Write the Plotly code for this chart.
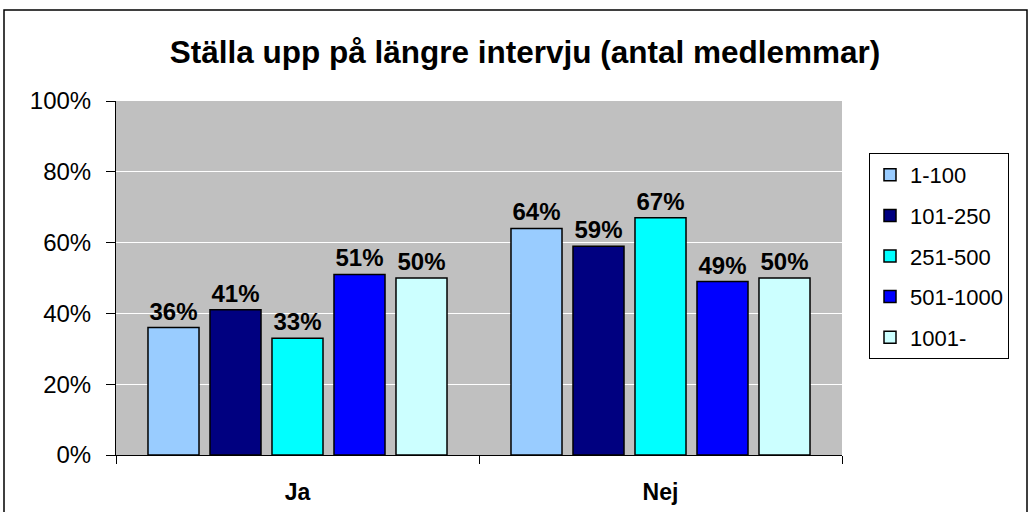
import plotly.graph_objects as go

categories = ["Ja", "Nej"]
series_names = ["1-100", "101-250", "251-500", "501-1000", "1001-"]
values = {
    "1-100": [36, 64],
    "101-250": [41, 59],
    "251-500": [33, 67],
    "501-1000": [51, 49],
    "1001-": [50, 50],
}
colors = ["#99CCFF", "#000080", "#00FFFF", "#0000FF", "#CCFFFF"]
title = "Ställa upp på längre intervju (antal medlemmar)"

FONT = "Liberation Sans, Arial, sans-serif"
W, H = 1032, 512
L, R, T, B = 116, 842, 101, 455

fig = go.Figure()
for i, name in enumerate(series_names):
    fig.add_trace(go.Bar(
        x=categories, y=values[name], name=name,
        text=[f"{v}%" for v in values[name]],
        marker=dict(color=colors[i], line=dict(color="black", width=1.5)),
        texttemplate="%{text}", textposition="outside",
        textfont=dict(family=FONT, size=24, color="black", weight="bold"),
        cliponaxis=False, legendgroup=name, hoverinfo="skip",
    ))

def px_x(p):
    return (p - L) / (R - L)

def px_y(p):
    return (B - p) / (B - T)

fig.update_layout(
    width=W, height=H,
    margin=dict(l=L, r=W - R, t=T, b=H - B, autoexpand=False),
    paper_bgcolor="white", plot_bgcolor="#C0C0C0",
    barmode="group", bargap=0.146, bargroupgap=0.177,
    font=dict(family=FONT, size=22, color="black"),
    title=dict(text="<b>" + title + "</b>", x=px_x(525), xref="paper", xanchor="center",
               y=1 - 52 / H, yanchor="middle", font=dict(size=31.5, family=FONT)),
    showlegend=True,
    legend=dict(x=px_x(869), y=px_y(153), xanchor="left", yanchor="top",
                bgcolor="white", bordercolor="black", borderwidth=1,
                font=dict(size=22, family=FONT), tracegroupgap=9,
                traceorder="grouped", itemwidth=30),
    xaxis=dict(showline=True, linecolor="black", linewidth=1, ticks="outside",
               tickson="boundaries", ticklen=8, tickcolor="black",
               ticklabelstandoff=16,
               tickfont=dict(size=23, weight="bold", family=FONT)),
    yaxis=dict(range=[0, 100], dtick=20, ticksuffix="%", showline=True,
               linecolor="black", linewidth=1, ticks="outside", ticklen=9,
               tickcolor="black", gridcolor="white", gridwidth=1,
               ticklabelstandoff=10,
               zeroline=False, tickfont=dict(size=24, family=FONT)),
)

fig.add_shape(type="rect", xref="paper", yref="paper",
              x0=px_x(4), x1=px_x(1027), y0=px_y(513), y1=px_y(10),
              line=dict(color="black", width=1.5), layer="below")

fig.write_html("out.html", config={"displayModeBar": False},
               post_script="document.body.style.margin='0';document.body.style.overflow='hidden';")
